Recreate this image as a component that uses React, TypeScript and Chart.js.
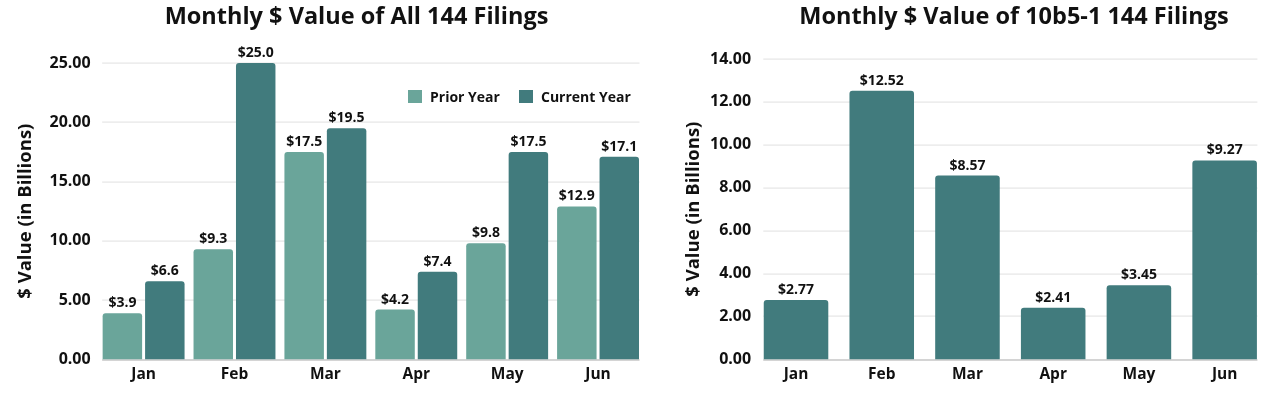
import React, { useEffect, useRef } from "react";
import { Chart, registerables } from "chart.js";

Chart.register(...registerables);

const months = ["Jan", "Feb", "Mar", "Apr", "May", "Jun"];
const priorYear = [3.9, 9.3, 17.5, 4.2, 9.8, 12.9];
const currentYear = [6.6, 25.0, 19.5, 7.4, 17.5, 17.1];
const plan10b51 = [2.77, 12.52, 8.57, 2.41, 3.45, 9.27];
const seriesNames = ["Prior Year", "Current Year"];
const leftTitle = "Monthly $ Value of All 144 Filings";
const rightTitle = "Monthly $ Value of 10b5-1 144 Filings";
const yAxisTitle = "$ Value (in Billions)";

const PRIOR = "#6aa59a";
const CURRENT = "#417b7d";
const FONT = "'Open Sans', sans-serif";
const TEXT = "#111111";

const titlePlugin = {
  id: "customTitle",
  afterDraw(chart: any, _args: any, opts: any) {
    const ctx = chart.ctx;
    ctx.save();
    ctx.font = `bold 23.5px ${FONT}`;
    ctx.fillStyle = TEXT;
    ctx.textAlign = "center";
    ctx.textBaseline = "alphabetic";
    ctx.fillText(opts.text, opts.x, opts.y);
    ctx.restore();
  },
};

// horizontal grid lines spanning only the extent of the bars, plus the baseline
const gridPlugin = {
  id: "barGrid",
  beforeDatasetsDraw(chart: any) {
    const ctx = chart.ctx;
    const y = chart.scales.y;
    const n = chart.data.datasets.length;
    const first = chart.getDatasetMeta(0).data[0];
    const lastMeta = chart.getDatasetMeta(n - 1).data;
    const last = lastMeta[lastMeta.length - 1];
    const x0 = first.x - first.width / 2 - 0.5;
    const x1 = last.x + last.width / 2 + 0.5;
    ctx.save();
    y.ticks.forEach((t: any) => {
      const py = Math.round(y.getPixelForValue(t.value));
      if (t.value === 0) {
        ctx.fillStyle = "#d4d4d4";
        ctx.fillRect(x0, py, x1 - x0, 2);
      } else {
        ctx.fillStyle = "#e6e6e6";
        ctx.fillRect(x0, py - 0.5, x1 - x0, 1.2);
      }
    });
    ctx.restore();
  },
};

const labelPlugin = {
  id: "barLabels",
  afterDatasetsDraw(chart: any, _args: any, opts: any) {
    const ctx = chart.ctx;
    ctx.save();
    ctx.font = `bold 14px ${FONT}`;
    ctx.fillStyle = TEXT;
    ctx.textAlign = "center";
    ctx.textBaseline = "alphabetic";
    chart.data.datasets.forEach((ds: any, di: number) => {
      const meta = chart.getDatasetMeta(di);
      meta.data.forEach((bar: any, i: number) => {
        const v = ds.data[i];
        ctx.fillText("$" + Number(v).toFixed(opts.decimals), bar.x, bar.y - 6);
      });
    });
    ctx.restore();
  },
};

const legendPlugin = {
  id: "insideLegend",
  afterDraw(chart: any, _args: any, opts: any) {
    if (!opts || !opts.items) return;
    const ctx = chart.ctx;
    ctx.save();
    ctx.font = `bold 14px ${FONT}`;
    ctx.textBaseline = "alphabetic";
    ctx.textAlign = "left";
    opts.items.forEach((it: any) => {
      ctx.fillStyle = it.color;
      ctx.fillRect(it.x, opts.y, 14, 13);
      ctx.fillStyle = TEXT;
      ctx.fillText(it.text, it.x + 22, opts.y + 12);
    });
    ctx.restore();
  },
};

function makeOptions(
  max: number,
  step: number,
  padding: any,
  title: any,
  legend: any,
  decimals: number,
  tickPad: number,
  titlePadBottom: number
) {
  return {
    responsive: false,
    animation: false,
    layout: { padding },
    plugins: {
      legend: { display: false },
      tooltip: { enabled: false },
      title: { display: false },
      customTitle: title,
      barLabels: { decimals },
      insideLegend: legend,
    },
    scales: {
      x: {
        grid: { display: false, drawTicks: false },
        border: { display: false },
        ticks: { font: { family: FONT, weight: "bold", size: 15.5 }, color: TEXT, padding: 6 },
      },
      y: {
        min: 0,
        max,
        ticks: {
          stepSize: step,
          callback: (v: any) => Number(v).toFixed(2),
          font: { family: FONT, weight: "bold", size: 16 },
          color: TEXT,
          padding: tickPad,
        },
        grid: { display: false, drawTicks: false },
        border: { display: false },
        title: {
          display: true,
          text: yAxisTitle,
          font: { family: FONT, weight: "bold", size: 18.5 },
          color: TEXT,
          padding: { top: 0, bottom: titlePadBottom },
        },
      },
    },
  };
}

export default function App() {
  const leftRef = useRef<HTMLCanvasElement>(null);
  const rightRef = useRef<HTMLCanvasElement>(null);

  useEffect(() => {
    const left = new Chart(leftRef.current as HTMLCanvasElement, {
      type: "bar",
      data: {
        labels: months,
        datasets: [
          {
            label: seriesNames[0],
            data: priorYear,
            backgroundColor: PRIOR,
            borderRadius: 3,
            categoryPercentage: 0.934,
            barPercentage: 0.93,
          },
          {
            label: seriesNames[1],
            data: currentYear,
            backgroundColor: CURRENT,
            borderRadius: 3,
            categoryPercentage: 0.934,
            barPercentage: 0.93,
          },
        ],
      },
      options: makeOptions(
        25,
        5,
        { left: 15, right: 1.5, top: 63, bottom: 3 },
        { text: leftTitle, x: 356.5, y: 24 },
        {
          y: 90,
          items: [
            { text: seriesNames[0], color: PRIOR, x: 408 },
            { text: seriesNames[1], color: CURRENT, x: 519 },
          ],
        },
        1,
        7.5,
        4.8
      ) as any,
      plugins: [titlePlugin, gridPlugin, labelPlugin, legendPlugin],
    });

    const right = new Chart(rightRef.current as HTMLCanvasElement, {
      type: "bar",
      data: {
        labels: months,
        datasets: [
          {
            label: "10b5-1",
            data: plan10b51,
            backgroundColor: CURRENT,
            borderRadius: 3,
            categoryPercentage: 0.753,
            barPercentage: 1,
          },
        ],
      },
      options: makeOptions(
        14,
        2,
        { left: 37.4, right: 15.5, top: 59, bottom: 3 },
        { text: rightTitle, x: 369, y: 24 },
        null,
        2,
        2,
        3.4
      ) as any,
      plugins: [titlePlugin, gridPlugin, labelPlugin, legendPlugin],
    });

    return () => {
      left.destroy();
      right.destroy();
    };
  }, []);

  return (
    <div style={{ position: "fixed", left: 0, top: 0, width: 1283, height: 393, background: "#fff" }}>
      <canvas ref={leftRef} width={645} height={393} style={{ position: "absolute", left: 0, top: 0 }} />
      <canvas ref={rightRef} width={638} height={393} style={{ position: "absolute", left: 645, top: 0 }} />
    </div>
  );
}
